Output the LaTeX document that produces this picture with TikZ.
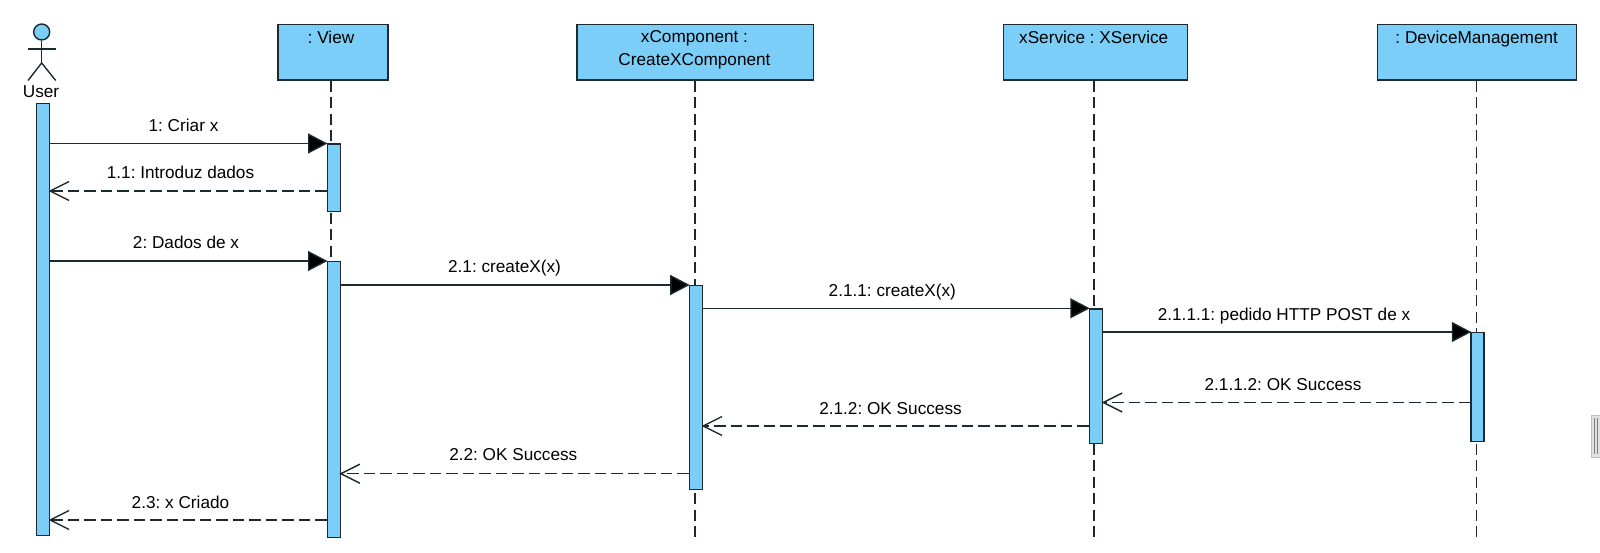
\documentclass[tikz,border=0pt]{standalone}
\usepackage{fontspec}
\setmainfont{Liberation Sans}
\usetikzlibrary{arrows.meta}
\definecolor{fillblue}{HTML}{7ACEF7}
\definecolor{ink}{HTML}{1C2A30}
\tikzset{
  objbox/.style={draw=ink,line width=1.4pt,fill=fillblue,anchor=north west,inner sep=0pt,minimum height=55.5pt},
  objtext/.style={font=\fontsize{17.2}{23.3}\selectfont,align=center,text=black,inner sep=0pt,anchor=base},
  lifeline/.style={draw=ink,line width=1.4pt,dash pattern=on 11pt off 5.5pt},
  bar/.style={draw=ink,line width=1.4pt,fill=fillblue,anchor=north west,inner sep=0pt,minimum width=13pt},
  sync/.style={draw=ink,line width=1.4pt,shorten >=-1pt,-{Triangle[length=19.5pt,width=20pt,fill=black]}},
  reply/.style={draw=ink,line width=1.4pt,dash pattern=on 11.5pt off 5pt},
  open/.style={draw=ink,line width=1.4pt},
  msg/.style={font=\fontsize{17.2}{20}\selectfont,text=black,inner sep=0pt,anchor=base},
}
\begin{document}
\frenchspacing
\begin{tikzpicture}[x=1pt,y=-1pt]
\useasboundingbox (0,0) rectangle (1600,553);
% lifelines
\node[objbox,minimum width=110pt] (view) at (277.3,24) {};
\node[objbox,minimum width=236.5pt] (comp) at (576.3,24) {};
\node[objbox,minimum width=184pt] (serv) at (1003,24) {};
\node[objbox,minimum width=199pt] (dev) at (1377,24) {};
\node[objtext] (viewt) at (331,43.5) {: View};
\node[objtext,anchor=north] (compt) at (694.5,30) {xComponent :\\CreateXComponent};
\node[objtext] (servt) at (1093.7,43.5) {xService : XService};
\node[objtext] (devt) at (1476.7,43.5) {: DeviceManagement};
\coordinate (lv) at (331,537);
\coordinate (lc) at (695,537);
\coordinate (ls) at (1094,537);
\coordinate (ld) at (1476.7,537);
\draw[lifeline] (lv |- view.south) -- (lv);
\draw[lifeline] (lc |- comp.south) -- (lc);
\draw[lifeline] (ls |- serv.south) -- (ls);
\draw[lifeline] (ld |- dev.south) -- (ld);
% actor
\node[circle,draw=ink,line width=1.4pt,fill=fillblue,minimum size=16pt,inner sep=0pt] (head) at (41.7,32) {};
\coordinate (hip) at (41.7,63);
\coordinate (arml) at (28,49);
\coordinate (armr) at (55.7,49);
\coordinate (legl) at (28,80.5);
\coordinate (legr) at (55.7,80.5);
\draw[open] (head.south) -- (hip);
\draw[open] (arml) -- (armr);
\draw[open] (legl) -- (hip) -- (legr);
\node[objtext] (usert) at (41,97.7) {User};
% bars
\node[bar,minimum height=432pt] (ub) at (35.7,103) {};
\node[bar,minimum height=67.5pt] (vb1) at (326.5,143.5) {};
\node[bar,minimum height=275.5pt] (vb2) at (326.5,261) {};
\node[bar,minimum height=204pt] (cb) at (688.7,285) {};
\node[bar,minimum height=134.5pt] (sb) at (1088.8,308.3) {};
\node[bar,minimum height=108.5pt] (db) at (1470.3,332) {};
% message levels
\coordinate (m1) at (0,143.5);
\coordinate (m11) at (0,191);
\coordinate (m2) at (0,261);
\coordinate (m21) at (0,285);
\coordinate (m211) at (0,308.3);
\coordinate (m2111) at (0,332);
\coordinate (m2112) at (0,402.5);
\coordinate (m212) at (0,426);
\coordinate (m22) at (0,473.7);
\coordinate (m23) at (0,520);
% synchronous
\draw[sync] (ub.east |- m1) -- (vb1.west |- m1);
\draw[sync] (ub.east |- m2) -- (vb2.west |- m2);
\draw[sync] (vb2.east |- m21) -- (cb.west |- m21);
\draw[sync] (cb.east |- m211) -- (sb.west |- m211);
\draw[sync] (sb.east |- m2111) -- (db.west |- m2111);
% replies
\foreach \from/\to/\lev in {vb1/ub/m11,db/sb/m2112,sb/cb/m212,cb/vb2/m22,vb2/ub/m23}{
  \draw[reply] (\from.west |- \lev) -- (\to.east |- \lev);
  \draw[open] ([shift={(19,-9.5)}]\to.east |- \lev) -- (\to.east |- \lev) -- ([shift={(19,9.5)}]\to.east |- \lev);
}
% labels
\node[msg] (l1) at (183.5,131.7) {1: Criar x};
\node[msg] (l2) at (180.5,178.5) {1.1: Introduz dados};
\node[msg] (l3) at (186,249) {2: Dados de x};
\node[msg] (l4) at (504.5,272.7) {2.1: createX(x)};
\node[msg] (l5) at (892.3,296) {2.1.1: createX(x)};
\node[msg] (l6) at (1284,320) {2.1.1.1: pedido HTTP POST de x};
\node[msg] (l7) at (1283,390) {2.1.1.2: OK Success};
\node[msg] (l8) at (890.5,414) {2.1.2: OK Success};
\node[msg] (l9) at (513.3,460.7) {2.2: OK Success};
\node[msg] (l10) at (180.5,508.3) {2.3: x Criado};
% window grip
\node[draw=black!25,fill=black!12,anchor=north west,minimum width=12pt,minimum height=42pt,inner sep=0pt,line width=.8pt] (grip) at (1591,415) {};
\draw[black!50,line width=.8pt] (1594,418) -- (1594,454) (1597,418) -- (1597,454);
\end{tikzpicture}
\end{document}
